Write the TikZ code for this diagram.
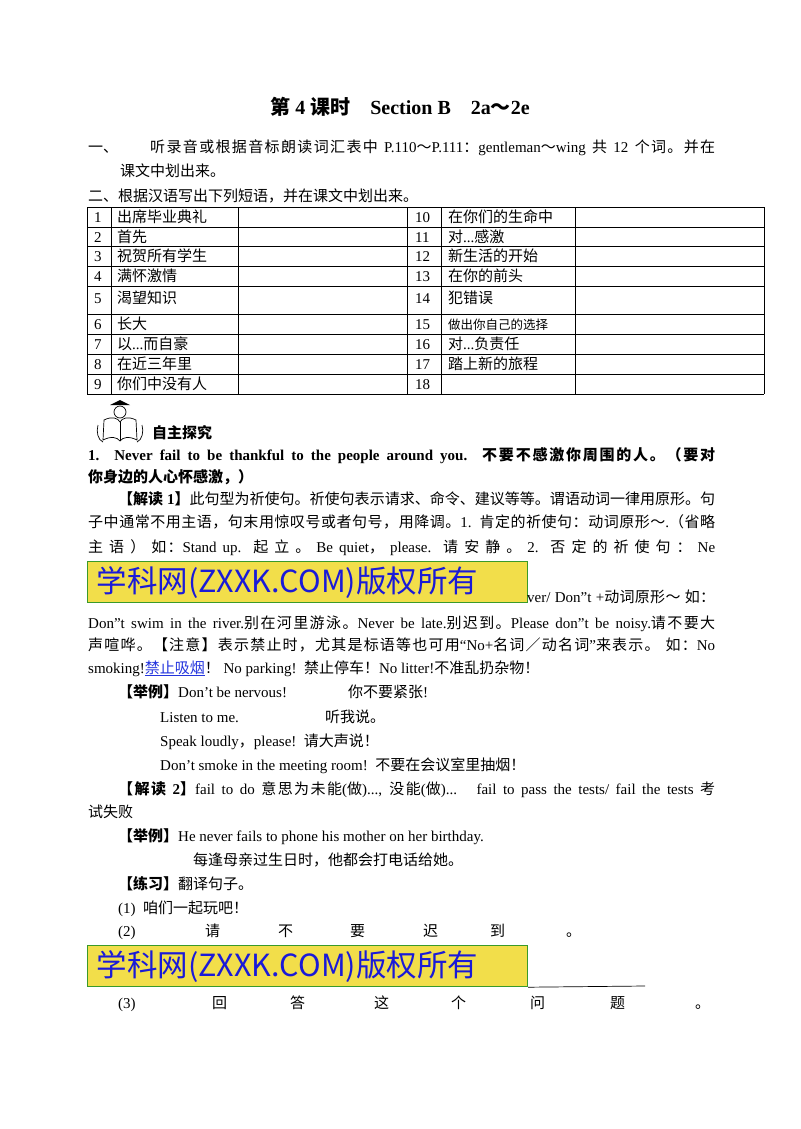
\documentclass[tikz,border=0pt]{standalone}
\usepackage{fontspec}
\setmainfont{Liberation Serif}
\newfontfamily\cjk{Noto Sans CJK SC}
\newfontfamily\wmfont{Noto Sans CJK SC}
\XeTeXinterchartokenstate=1
\newXeTeXintercharclass\cjkcls
\count255="4E00 \loop \XeTeXcharclass\count255=\cjkcls \ifnum\count255<"9FFF \advance\count255 1 \repeat
\count255="3000 \loop \XeTeXcharclass\count255=\cjkcls \ifnum\count255<"303F \advance\count255 1 \repeat
\count255="FF00 \loop \XeTeXcharclass\count255=\cjkcls \ifnum\count255<"FFEF \advance\count255 1 \repeat
\XeTeXinterchartoks 0 \cjkcls = {\cjk}
\XeTeXinterchartoks 4095 \cjkcls = {\cjk}
\XeTeXinterchartoks \cjkcls 0 = {\rmfamily}
\XeTeXinterchartoks \cjkcls 4095 = {\rmfamily}
\XeTeXinterchartoks \cjkcls \cjkcls = {\hskip0pt plus 1pt\relax}
\definecolor{wmyellow}{HTML}{F2DE4A}
\definecolor{wmgreen}{HTML}{3A9A2A}
\definecolor{wmblue}{HTML}{1A1AD8}
\definecolor{linkblue}{HTML}{2233DD}
\newcommand{\jl}[1]{\hbox to 627pt{#1}}
\newcommand{\wmsetup}{\XeTeXinterchartokenstate=0\relax\wmfont\fontsize{30.5}{32}\selectfont}
\begin{document}
\begin{tikzpicture}[x=1pt,y=-1pt,
  txt/.style={anchor=base west,inner sep=0pt,font=\fontsize{15}{18}\selectfont},
  wm/.style={draw=wmgreen,line width=1.2pt,fill=wmyellow,anchor=north west,inner xsep=9pt,inner ysep=0pt,text width=422pt,align=left,minimum height=41pt,text=wmblue,font=\wmsetup},
  grid/.style={line width=0.7pt}]
\useasboundingbox (0,0) rectangle (800,1129);
\node[anchor=base,inner sep=0,font=\bfseries\fontsize{20}{24}\selectfont] (title) at (400,115) {第 4 课时\quad Section B\quad 2a～2e};
\node[txt] (l1a) at (88,153) {一、};
\node[txt] (l1) at (150,153) {\hbox to 565pt{听录音或根据音标朗读词汇表中 P.110～P.111：gentleman～wing 共 12 个词。并在}};
\node[txt] (l2) at (120,176) {课文中划出来。};
\node[txt] (l3) at (88,201) {二、根据汉语写出下列短语，并在课文中划出来。};
% table
\foreach \y in {207,227,246,266,286,314,334,354,374,394} \draw[grid] (87,\y) -- (764,\y);
\foreach \x in {87,111,238,407,441,575,764} \draw[grid] (\x,207) -- (\x,394);
\foreach \n/\t/\y in {1/出席毕业典礼/217,2/首先/237,3/祝贺所有学生/256,4/满怀激情/276,5/渴望知识/298,6/长大/324,8/在近三年里/364,9/你们中没有人/384}{
  \node[txt] (n\n) at (94,\y+5) {\n};
  \node[txt] (t\n) at (117,\y+5) {\t};}
\node[txt] (n7) at (94,349) {7};
\node[txt] (t7) at (117,349) {以...而自豪};
\foreach \n/\t/\y in {10/在你们的生命中/217,12/新生活的开始/256,13/在你的前头/276,14/犯错误/298,17/踏上新的旅程/364}{
  \node[txt] (n\n) at (415,\y+5) {\n};
  \node[txt] (t\n) at (448,\y+5) {\t};}
\node[txt] (n11) at (415,242) {11};
\node[txt] (t11) at (448,242) {对...感激};
\node[txt] (n15) at (415,329) {15};
\node[txt,font=\fontsize{12.5}{15}\selectfont] (t15) at (448,329) {做出你自己的选择};
\node[txt] (n16) at (415,349) {16};
\node[txt] (t16) at (448,349) {对...负责任};
\node[txt] (n18) at (415,389) {18};
% icon
\begin{scope}[line width=0.7pt]
\draw (120,412) circle (6);
\fill (110,405) -- (130,405) -- (120,400) -- cycle;
\draw (104,420) .. controls (112,416) and (118,418) .. (120,422) .. controls (122,418) and (128,416) .. (136,420) -- (137,440) .. controls (129,436) and (123,437) .. (120,441) .. controls (117,437) and (111,436) .. (103,440) -- cycle;
\draw (120,422) -- (120,441);
\draw (98,425) .. controls (96,432) and (98,440) .. (103,442);
\draw (142,425) .. controls (144,432) and (142,440) .. (137,442);
\end{scope}
\node[txt,font=\bfseries\fontsize{15}{18}\selectfont] (zz) at (152,438) {自主探究};
\node[txt,font=\bfseries\fontsize{15}{18}\selectfont] (s1) at (88,460) {\jl{1. Never fail to be thankful to the people around you. 不要不感激你周围的人。（要对}};
\node[txt,font=\bfseries\fontsize{15}{18}\selectfont] (s1b) at (88,482) {你身边的人心怀感激，）};
\node[txt] (j1) at (118,504) {\hbox to 597pt{{\bfseries 【解读 1】}此句型为祈使句。祈使句表示请求、命令、建议等等。谓语动词一律用原形。句}};
\node[txt] (j2) at (88,527) {\jl{子中通常不用主语，句末用惊叹号或者句号，用降调。1. 肯定的祈使句：动词原形～.（省略}};
\node[txt] (j3) at (88,552) {\jl{主 语 ） 如：Stand up. 起 立 。 Be quiet， please. 请 安 静 。 2. 否 定 的 祈 使 句 ： Ne}};
\node[wm] (wm1) at (87,561) {学科网(ZXXK.COM)版权所有};
\node[txt] (j4) at (527,602) {\hbox to 188pt{ver/ Don"t +动词原形～ 如：}};
\node[txt] (j5) at (88,628) {\jl{Don"t swim in the river.别在河里游泳。Never be late.别迟到。Please don"t be noisy.请不要大}};
\node[txt] (j6) at (88,650) {\jl{声喧哗。【注意】表示禁止时，尤其是标语等也可用“No+名词／动名词”来表示。 如：No}};
\node[txt] (j7) at (88,673) {smoking!\textcolor{linkblue}{\underline{禁止吸烟}}！ No parking!\ \ 禁止停车！No litter!不准乱扔杂物！};
\node[txt] (e1) at (118,697) {{\bfseries 【举例】}Don't be nervous!};
\node[txt] (e1b) at (348,697) {你不要紧张!};
\node[txt] (e2) at (160,722) {Listen to me.};
\node[txt] (e2b) at (325,722) {听我说。};
\node[txt] (e3) at (160,746) {Speak loudly，please!\ \ 请大声说！};
\node[txt] (e4) at (160,770) {Don't smoke in the meeting room!\ \ 不要在会议室里抽烟！};
\node[txt] (k1) at (118,794) {\hbox to 597pt{{\bfseries 【解读 2】}fail to do 意思为未能(做)..., 没能(做)...\ \ \ fail to pass the tests/ fail the tests 考}};
\node[txt] (k2) at (88,817) {试失败};
\node[txt] (x1) at (118,841) {{\bfseries 【举例】}He never fails to phone his mother on her birthday.};
\node[txt] (x1b) at (193,865) {每逢母亲过生日时，他都会打电话给她。};
\node[txt] (p0) at (118,889) {{\bfseries 【练习】}翻译句子。};
\node[txt] (p1) at (118,913) {(1)\ \ 咱们一起玩吧！};
\node[txt] (p2) at (118,936) {(2)};
\foreach \c/\x in {请/205,不/278,要/350,迟/423,到/490,。/566}{\node[txt] at (\x,936) {\c};}
\node[wm] (wm2) at (87,945) {学科网(ZXXK.COM)版权所有};
\coordinate (ul) at (645,986);
\draw[line width=0.7pt] (wm2.south east) -- (ul);
\node[txt] (p3) at (118,1008) {(3)};
\foreach \c/\x in {回/212,答/290,这/374,个/451,问/530,题/610,。/695}{\node[txt] at (\x,1008) {\c};}
\end{tikzpicture}
\end{document}
